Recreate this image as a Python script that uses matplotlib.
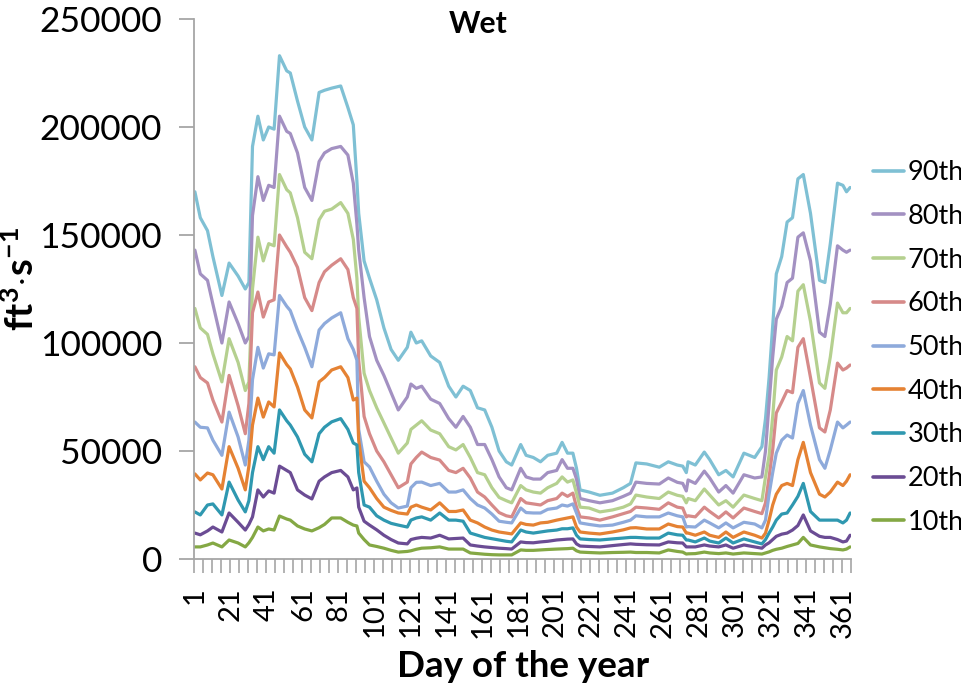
import matplotlib
matplotlib.use('Agg')
import matplotlib.pyplot as plt
import numpy as np

# Day of year (sample points)
days = [1, 4, 8, 11, 16, 20, 25, 29, 31, 33,
        36, 39, 42, 45, 48, 52, 54, 58, 62, 66,
        70, 73, 77, 82, 86, 89, 91, 92, 95, 98,
        102, 106, 110, 114, 119, 121, 124, 127, 132, 137,
        142, 146, 150, 154, 158, 162, 166, 170, 174, 177,
        182, 185, 189, 193, 197, 202, 205, 208, 211, 213,
        215, 220, 226, 233, 239, 243, 246, 252, 259, 264,
        269, 272, 274, 275, 279, 284, 287, 292, 296, 300,
        306, 312, 316, 318, 320, 322, 324, 327, 330, 333,
        336, 339, 343, 348, 351, 354, 358, 361, 363, 365]

# Flow values in thousands of ft3/s
p90 = [170, 158, 152, 140, 122, 137, 131, 125, 128, 191,
       205, 194, 200, 199, 233, 226, 225, 212, 200, 194,
       216, 217, 218, 219, 209, 201, 175, 160, 138, 130,
       120, 107, 97, 92, 98, 105, 100, 101, 94, 91,
       80, 75, 80, 78, 70, 69, 61, 50, 45, 43.5,
       53, 48, 47, 45, 48, 49, 54, 49, 49, 42,
       32, 31, 29.5, 30.5, 33, 35, 44.5, 44, 42.5, 45,
       43.5, 43, 40, 45, 43.5, 49.5, 46, 39, 41, 38,
       49, 47, 52, 65, 84, 108, 132, 140, 156, 158,
       176, 178, 160, 129, 128, 146, 174, 173, 170, 172]
p80 = [143, 132, 129, 118, 100, 119, 109, 100, 103, 159,
       177, 166, 173, 172, 205, 198, 197, 188, 172, 166,
       184, 188, 190, 191, 187, 174, 155, 143, 121, 103,
       92, 85, 77, 69, 75, 81, 79, 80, 74, 72,
       65, 61, 66, 61, 53, 53, 46, 38, 33, 32,
       42, 38, 37, 37, 40, 41, 46, 42, 42, 37,
       28, 27, 26, 27, 29, 30.5, 35.6, 35, 34.7, 37.5,
       35.5, 35, 31.5, 36.6, 35, 40.7, 37.5, 31, 34, 30.5,
       39, 37.5, 38, 50, 72, 93.5, 111, 117, 128, 130,
       149, 151, 138, 105, 103, 118, 145, 143, 142, 143]
p70 = [116, 107, 104, 95, 82, 102, 91, 78, 82, 125,
       149, 138, 146, 145, 178, 171, 169.5, 158, 142, 139,
       157, 161, 162, 165, 160, 148, 130, 112, 86, 78,
       70, 63, 56, 49, 53.7, 60, 62, 64, 59.7, 58,
       52, 50.5, 53, 47, 40, 39, 33, 28.5, 27, 26,
       34, 32, 31, 30.5, 33, 35, 38, 35.6, 36.6, 30.5,
       24, 23.6, 21.8, 22.7, 24, 25.5, 29.6, 28.7, 28, 31,
       29.5, 29, 26, 28, 27, 32.4, 29.6, 25, 27, 24,
       29.6, 28, 27, 38, 48, 66, 87.5, 93.5, 103, 101,
       124, 127, 110, 81.5, 79, 93.5, 118.5, 114, 114, 116]
p60 = [89, 84, 81.5, 73.6, 63.4, 85, 71, 58, 72, 114,
       123.6, 112, 119, 120, 150, 144.5, 142, 135, 121, 115,
       128, 133, 136, 139, 134, 121, 116, 92, 66, 58,
       50, 45, 39, 33, 35.6, 44, 47, 49.5, 47, 45.8,
       41, 40, 42, 37.5, 31, 28.7, 25, 21.5, 20, 19.5,
       28, 26, 25.5, 25, 27, 28, 30.5, 29, 30.5, 24,
       19.5, 19, 18, 19.5, 21, 22, 24, 23.6, 23, 26,
       24, 23.6, 19.5, 20, 19.5, 24, 22, 19, 21.8, 19,
       23.6, 22, 21, 26, 38, 50.5, 67.6, 72.7, 78, 77,
       98, 102, 84, 60.7, 58.8, 69, 90.7, 87.5, 88.4, 89.8]
p50 = [63.4, 61, 60.7, 55, 48, 68, 56.5, 43.5, 55, 83,
       98, 88.4, 95, 94.5, 122, 117, 115, 106, 98, 89,
       106, 109, 111.6, 114, 102, 97, 92, 60, 45, 42.6,
       36, 30, 26, 23.6, 24.5, 33, 35.5, 35.6, 34, 35,
       31, 31, 32, 28, 25, 23.6, 20.8, 17.5, 17, 16.7,
       23.6, 21.5, 21.3, 21.3, 23, 23.6, 25, 24.5, 25.5, 21.3,
       16.7, 16, 15.3, 15.7, 17, 18, 20, 19.5, 19.5, 21.3,
       20, 19.5, 14.8, 15, 14.8, 18, 16.7, 14.4, 16.7, 14.4,
       17, 16.2, 14.4, 18, 30, 40, 49, 55, 57.4, 56,
       72, 78, 62, 46, 42, 50.5, 63.4, 60.7, 62, 63.4]
p40 = [39.4, 36.6, 39.8, 39, 32.4, 52, 42, 32, 43, 62,
       74.5, 65.7, 72.7, 70.4, 95.4, 90, 88, 79.6, 69, 65.3,
       82, 84, 87.5, 89, 84, 73.6, 74.5, 55, 36, 33,
       28, 24, 22.5, 21.3, 20.8, 24, 25, 24, 22.7, 26,
       22, 22, 22.7, 18, 16.7, 14.8, 13.4, 12.5, 12, 11.6,
       16.7, 16, 15.7, 16.7, 17, 18, 18.5, 19, 19.5, 14.8,
       12.5, 12, 11.6, 12.5, 13.5, 14.4, 14.5, 13.9, 13.9, 16.2,
       15, 14.8, 12, 12, 11, 12.5, 11, 10, 12.5, 10,
       12.5, 11, 9.7, 12, 18, 25, 30, 34, 35, 34,
       46, 54, 40, 30, 28.7, 31, 35.6, 34, 36, 39]
p30 = [21.8, 20.4, 25, 25.5, 20.4, 35.6, 27.3, 21.8, 27, 40,
       52, 46, 52, 49, 69, 64, 62, 56.5, 48.5, 45,
       58, 61, 63.5, 65, 60, 53.7, 52.8, 40, 25, 24,
       20, 18, 16.5, 15.7, 14.8, 18, 19, 19.5, 18, 21.3,
       18, 18, 17.5, 12, 11, 10, 9.4, 8.8, 8.2, 7.9,
       13.4, 12.5, 12, 12.5, 13, 13.4, 14, 14, 14.4, 11,
       9.3, 9, 8.8, 9.3, 9.7, 10, 10, 9.7, 9.7, 12,
       11.2, 11, 8.8, 8.8, 7.9, 9.7, 8.3, 7.4, 9.7, 7.4,
       9.3, 7.9, 7, 9, 12, 14.8, 18, 20.8, 21.3, 25,
       29, 35, 22, 18, 18, 18, 18, 16.7, 18, 21.3]
p20 = [12, 11.2, 13, 14.8, 12.5, 21.3, 17, 13.4, 16, 19.5,
       32, 28.7, 31.5, 30.5, 43, 41, 40, 32, 29.6, 27.8,
       36, 38, 40, 41, 38, 32, 32.9, 24, 17.5, 15.7,
       13.5, 11, 9, 7.4, 7, 9, 9.6, 10, 9.7, 11,
       9.3, 9.5, 9.7, 6.5, 6, 5.6, 5.3, 5, 4.8, 4.6,
       7.9, 7.6, 7.5, 7.9, 8.2, 8.8, 9, 9.2, 9.3, 7,
       6, 5.8, 5.6, 6.2, 6.7, 7, 6.8, 6.6, 6.5, 7.9,
       7.5, 7.4, 5.6, 5.6, 5.6, 6.5, 6, 5.6, 6.5, 5,
       6.5, 5.6, 5, 6.5, 7.5, 9, 10.5, 11.5, 12, 13.4,
       15.5, 20.4, 13, 10.5, 10, 10, 9, 7.9, 8.3, 11]
p10 = [5.6, 5.6, 6.5, 7.4, 5.6, 8.8, 7.4, 5.6, 7.5, 10,
       14.8, 13, 13.9, 13.4, 19.9, 18.5, 18, 15.3, 13.9, 13,
       14.5, 16, 19, 19, 17, 15.7, 15.3, 12, 9, 6.5,
       5.8, 5, 4, 3.2, 3.5, 3.8, 4.5, 5, 5.2, 5.6,
       4.6, 4.6, 4.6, 2.8, 2.5, 2.2, 2, 1.9, 1.9, 1.9,
       4.2, 4, 4, 4.2, 4.4, 4.6, 4.7, 4.8, 5, 3.8,
       3.2, 3, 2.8, 3, 3.1, 3.2, 3, 3, 2.8, 4.2,
       3.5, 3.2, 2.3, 2.4, 2.5, 3.2, 2.8, 2.5, 2.8, 2.3,
       2.8, 2.5, 2.3, 2.8, 3.3, 4, 4.5, 5, 5.8, 6.5,
       7.2, 10, 6.5, 5.6, 5.2, 4.8, 4.5, 4.2, 4.6, 5.6]

series = [p90, p80, p70, p60, p50, p40, p30, p20, p10]
labels = ['90th', '80th', '70th', '60th', '50th', '40th', '30th', '20th', '10th']
colors = ['#7fc0d4', '#a391c2', '#b5d08f', '#d68a89', '#8eaadb',
          '#e58233', '#2f98b0', '#6b4c94', '#84a844']

y_ticks = [0, 50000, 100000, 150000, 200000, 250000]
x_label_days = list(range(1, 366, 20))

plt.rcParams['font.family'] = ['Lato', 'DejaVu Sans']
plt.rcParams['mathtext.fontset'] = 'custom'
plt.rcParams['mathtext.rm'] = 'Lato'
plt.rcParams['mathtext.bf'] = 'Lato:bold'

W, H = 962, 688
fig = plt.figure(figsize=(W / 100, H / 100), dpi=100)
ax = fig.add_axes([194 / W, 1 - 559 / H, 657 / W, 540 / H])

for vals, lab, col in zip(series, labels, colors):
    ax.plot(days, np.array(vals) * 1000, color=col, lw=2.3, label=lab,
            solid_joinstyle='round', solid_capstyle='round')

ax.set_xlim(0.5, 365.5)
ax.set_ylim(0, 250000)

axis_col = '#a6a6a6'
for s in ['top', 'right']:
    ax.spines[s].set_visible(False)
for s in ['left', 'bottom']:
    ax.spines[s].set_color(axis_col)
    ax.spines[s].set_linewidth(1.3)

ax.set_yticks(y_ticks)
ax.set_yticklabels([str(v) for v in y_ticks])
ax.tick_params(axis='y', length=11, width=1.3, color=axis_col, pad=12,
               labelsize=25.5, labelcolor='black')

ax.set_xticks(x_label_days)
ax.set_xticklabels([str(d) for d in x_label_days], rotation=90)
ax.set_xticks(np.arange(0.5, 366, 5), minor=True)
ax.tick_params(axis='x', which='major', length=0, pad=20, labelsize=21)
ax.tick_params(axis='x', which='minor', length=10, width=1.2, color=axis_col)

leg = ax.legend(loc='center left', bbox_to_anchor=(873 / W, 1 - 347.5 / H),
                bbox_transform=fig.transFigure, frameon=False,
                handlelength=1.15, handletextpad=0.12, labelspacing=0.69,
                fontsize=19.5, borderaxespad=0, borderpad=0)
for ln in leg.get_lines():
    ln.set_linewidth(2.6)

fig.text(478 / W, 1 - 24 / H, 'Wet', ha='center', va='center',
         fontsize=21.6, fontweight='bold')
fig.text(523.5 / W, 1 - 677 / H, 'Day of the year', ha='center', va='baseline',
         fontsize=26.5, fontweight='bold')
fig.text(22 / W, 1 - 279 / H, r'$\mathbf{ft^{3}{\cdot}s^{-1}}$', ha='center',
         va='center', rotation=90, fontsize=27.5)

fig.savefig('out.png', dpi=100)
